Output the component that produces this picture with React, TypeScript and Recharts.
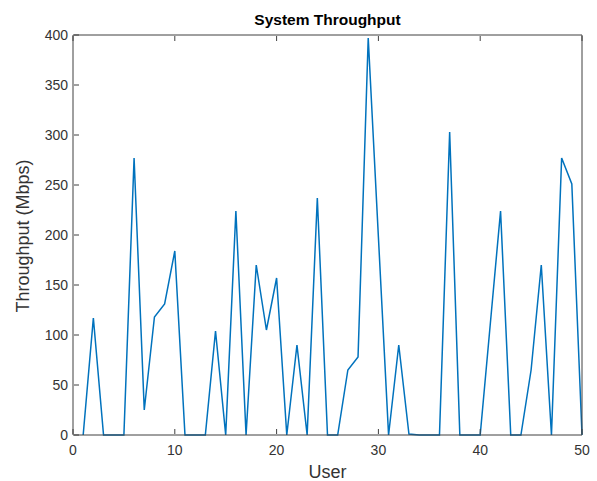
import { LineChart, Line, XAxis, YAxis } from "recharts";

const users = [
  1, 2, 3, 4, 5, 6, 7, 8, 9, 10, 11, 12, 13, 14, 15, 16, 17, 18, 19, 20, 21, 22, 23, 24, 25,
  26, 27, 28, 29, 30, 31, 32, 33, 34, 35, 36, 37, 38, 39, 40, 41, 42, 43, 44, 45, 46, 47, 48, 49, 50,
];
const throughput = [
  0, 117, 0, 0, 0, 277, 25, 118, 131, 184, 0, 0, 0, 104, 0, 224, 0, 170, 105, 157, 0, 90, 0, 237, 0,
  0, 65, 78, 397, 198, 0, 90, 1, 0, 0, 0, 303, 0, 0, 0, 112, 224, 0, 0, 65, 170, 0, 277, 251, 0,
];
const xTicks = [0, 10, 20, 30, 40, 50];
const yTicks = [0, 50, 100, 150, 200, 250, 300, 350, 400];

const data = users.map((u, i) => ({ user: u, value: throughput[i] }));

const FONT = '"Liberation Sans", Arial, sans-serif';
const AXIS = "#404040";
const TEXT = "#333333";
const TICK = 5;

// MATLAB-style ticks: short marks pointing into the plot box
const BottomTick = (p: any) => (
  <g>
    <line x1={p.x} x2={p.x} y1={p.y - 1} y2={p.y - 1 - TICK} stroke={AXIS} />
    <text x={p.x} y={p.y + 20} textAnchor="middle" fill={TEXT} fontSize={14} fontFamily={FONT}>
      {p.payload.value}
    </text>
  </g>
);
const TopTick = (p: any) => <line x1={p.x} x2={p.x} y1={p.y + 1} y2={p.y + 1 + TICK} stroke={AXIS} />;
const LeftTick = (p: any) => (
  <g>
    <line x1={p.x + 1} x2={p.x + 1 + TICK} y1={p.y} y2={p.y} stroke={AXIS} />
    <text x={p.x - 5} y={p.y + 5} textAnchor="end" fill={TEXT} fontSize={14} fontFamily={FONT}>
      {p.payload.value}
    </text>
  </g>
);
const RightTick = (p: any) => <line x1={p.x - 1} x2={p.x - 1 - TICK} y1={p.y} y2={p.y} stroke={AXIS} />;

export default function App() {
  return (
    <div style={{ position: "absolute", left: 0, top: 0, width: 597, height: 481, background: "#fff" }}>
      <LineChart width={597} height={481} data={data} margin={{ top: 34, right: 14, bottom: 45, left: 72 }}>
        <XAxis
          dataKey="user"
          type="number"
          domain={[0, 50]}
          ticks={xTicks}
          height={1}
          tickSize={0}
          tickMargin={0}
          tickLine={false}
          stroke={AXIS}
          tick={<BottomTick />}
        />
        <XAxis
          xAxisId="top"
          orientation="top"
          dataKey="user"
          type="number"
          domain={[0, 50]}
          ticks={xTicks}
          height={1}
          tickSize={0}
          tickMargin={0}
          tickLine={false}
          stroke={AXIS}
          tick={<TopTick />}
        />
        <YAxis
          type="number"
          domain={[0, 400]}
          ticks={yTicks}
          width={1}
          tickSize={0}
          tickMargin={0}
          tickLine={false}
          stroke={AXIS}
          tick={<LeftTick />}
        />
        <YAxis
          yAxisId="right"
          orientation="right"
          type="number"
          domain={[0, 400]}
          ticks={yTicks}
          width={1}
          tickSize={0}
          tickMargin={0}
          tickLine={false}
          stroke={AXIS}
          tick={<RightTick />}
        />
        <Line
          dataKey="value"
          stroke="#0072BD"
          strokeWidth={1.5}
          dot={false}
          activeDot={false}
          isAnimationActive={false}
        />
      </LineChart>
      <div
        style={{
          position: "absolute", left: 73, width: 509, top: 11, lineHeight: "18px", textAlign: "center",
          fontFamily: FONT, fontWeight: "bold", fontSize: 15.5, color: "#000",
        }}
      >
        System Throughput
      </div>
      <div
        style={{
          position: "absolute", left: 73, width: 509, top: 462, lineHeight: "20px", textAlign: "center",
          fontFamily: FONT, fontSize: 18, color: TEXT,
        }}
      >
        User
      </div>
      <div
        style={{
          position: "absolute", left: 23 - 100, top: 236 - 10, width: 200, height: 20, lineHeight: "20px",
          textAlign: "center", transform: "rotate(-90deg)", fontFamily: FONT, fontSize: 18, color: TEXT,
        }}
      >
        Throughput (Mbps)
      </div>
    </div>
  );
}
